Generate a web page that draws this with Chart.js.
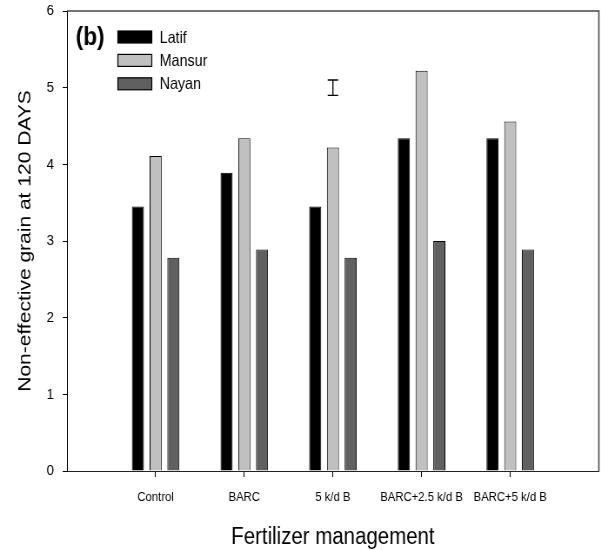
<!DOCTYPE html>
<html>
<head>
<meta charset="utf-8">
<script src="https://cdn.jsdelivr.net/npm/chart.js@4.4.1/dist/chart.umd.min.js"></script>
<style>
  html, body { margin: 0; padding: 0; background: #fff; overflow: hidden; }
  #wrap { width: 691px; height: 550px; transform: scaleX(0.8698); transform-origin: 0 0; }
</style>
</head>
<body>
<div id="wrap"><canvas id="c" width="691" height="550"></canvas></div>
<script>
// Fertilizer treatments on the x axis
const categories = ['Control', 'BARC', '5 k/d B', 'BARC+2.5 k/d B', 'BARC+5 k/d B'];
// Non-effective grain per variety
const latif  = [3.45, 3.89, 3.45, 4.34, 4.34];
const mansur = [4.11, 4.34, 4.22, 5.22, 4.56];
const nayan  = [2.78, 2.89, 2.78, 3.00, 2.89];
const yTicks = [0, 1, 2, 3, 4, 5, 6];
// LSD bar drawn above one treatment
const lsdCategory = '5 k/d B';
const lsdMid = 5.0;
const lsdHalf = 0.1;

const FONT = "'Liberation Sans', Arial, Helvetica, sans-serif";

// empty slots either side leave a blank category at each end of the axis
const labels = [''].concat(categories, ['']);
const pad = arr => [null].concat(arr, [null]);

const frame = {
  id: 'frame',
  afterDatasetsDraw(chart) {
    const { ctx, chartArea: a, scales } = chart;
    ctx.save();
    // top and right border of the plot box
    ctx.strokeStyle = '#444';
    ctx.lineWidth = 1.5;
    ctx.beginPath();
    ctx.moveTo(a.left, a.top);
    ctx.lineTo(a.right, a.top);
    ctx.lineTo(a.right, a.bottom);
    ctx.stroke();

    // LSD error bar
    const xi = labels.indexOf(lsdCategory);
    const px = scales.x.getPixelForValue(xi);
    const yTop = scales.y.getPixelForValue(lsdMid + lsdHalf);
    const yBot = scales.y.getPixelForValue(lsdMid - lsdHalf);
    const cap = 6;
    ctx.strokeStyle = '#000';
    ctx.lineWidth = 1.3;
    ctx.beginPath();
    ctx.moveTo(px, yTop); ctx.lineTo(px, yBot);
    ctx.moveTo(px - cap, yTop); ctx.lineTo(px + cap, yTop);
    ctx.moveTo(px - cap, yBot); ctx.lineTo(px + cap, yBot);
    ctx.stroke();

    // panel tag
    ctx.fillStyle = '#000';
    ctx.font = 'bold 26px ' + FONT;
    ctx.textAlign = 'left';
    ctx.textBaseline = 'middle';
    ctx.fillText('(b)', a.left + 10, a.top + 27);

    // legend
    ctx.font = '16.5px ' + FONT;
    chart.data.datasets.forEach((ds, i) => {
      const cy = a.top + 26 + i * 23.4;
      const bx = a.left + 58.5;
      ctx.fillStyle = ds.backgroundColor;
      ctx.fillRect(bx, cy - 6, 39, 12);
      ctx.strokeStyle = '#000';
      ctx.lineWidth = 1.2;
      ctx.strokeRect(bx, cy - 6, 39, 12);
      ctx.fillStyle = '#000';
      ctx.fillText(ds.label, bx + 48, cy + 1);
    });
    ctx.restore();
  }
};

new Chart(document.getElementById('c'), {
  type: 'bar',
  data: {
    labels: labels,
    datasets: [
      { label: 'Latif',  data: pad(latif),  backgroundColor: '#000000', borderColor: '#000', borderWidth: 1 },
      { label: 'Mansur', data: pad(mansur), backgroundColor: '#c0c0c0', borderColor: '#000', borderWidth: 1 },
      { label: 'Nayan',  data: pad(nayan),  backgroundColor: '#606060', borderColor: '#000', borderWidth: 1 }
    ]
  },
  options: {
    responsive: false,
    animation: false,
    devicePixelRatio: 1,
    categoryPercentage: 0.6,
    barPercentage: 0.68,
    layout: { padding: { top: 11, right: 2.5, left: 0, bottom: 0 } },
    plugins: { legend: { display: false }, tooltip: { enabled: false } },
    scales: {
      x: {
        type: 'category',
        offset: false,
        grid: {
          offset: false,
          drawOnChartArea: false,
          drawTicks: true,
          tickLength: 6,
          tickColor: c => (c.index === 0 || c.index === labels.length - 1) ? 'rgba(0,0,0,0)' : '#000'
        },
        border: { display: true, color: '#222', width: 1 },
        ticks: {
          autoSkip: false, maxRotation: 0, minRotation: 0, padding: 12.5,
          color: '#000', font: { family: FONT, size: 13 }
        },
        title: {
          display: true, text: 'Fertilizer management', color: '#000',
          font: { family: FONT, size: 23.5, lineHeight: 1.1 }, padding: { top: 0, bottom: 0 }
        },
        afterFit(s) {
          s.height = 79;
          s.paddingLeft = 0;
          s.paddingRight = 0;
        }
      },
      y: {
        min: 0, max: 6,
        afterBuildTicks(s) { s.ticks = yTicks.map(v => ({ value: v })); },
        grid: { drawOnChartArea: false, drawTicks: true, tickLength: 5, tickColor: '#000' },
        border: { display: true, color: '#000', width: 1 },
        ticks: { padding: 10, color: '#000', font: { family: FONT, size: 15.5 } },
        title: {
          display: true, text: 'Non-effective grain at 120 DAYS', color: '#000',
          font: { family: FONT, size: 21, lineHeight: 1.15 }, padding: { top: 17, bottom: 0 }
        },
        afterFit(s) {
          s.width = 77;
          s.paddingTop = 0;
          s.paddingBottom = 0;
        }
      }
    }
  },
  plugins: [frame]
});
</script>
</body>
</html>
